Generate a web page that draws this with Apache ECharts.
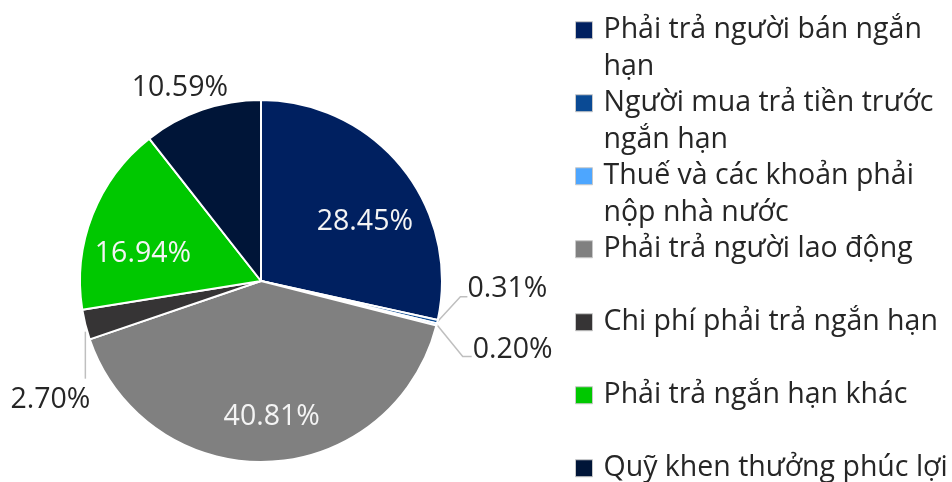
<!DOCTYPE html>
<html>
<head>
<meta charset="utf-8">
<script src="https://cdn.jsdelivr.net/npm/echarts@6/dist/echarts.min.js"></script>
<style>
html,body{margin:0;padding:0;background:#fff;}
#chart{width:952px;height:482px;}
</style>
</head>
<body>
<div id="chart"></div>
<script>
// ---- data ----
const categories = [
  'Phải trả người bán ngắn hạn',
  'Người mua trả tiền trước ngắn hạn',
  'Thuế và các khoản phải nộp nhà nước',
  'Phải trả người lao động',
  'Chi phí phải trả ngắn hạn',
  'Phải trả ngắn hạn khác',
  'Quỹ khen thưởng phúc lợi'
];
const values = [28.45, 0.31, 0.20, 40.81, 2.70, 16.94, 10.59];
const legendLine1 = [
  'Phải trả người bán ngắn',
  'Người mua trả tiền trước',
  'Thuế và các khoản phải',
  'Phải trả người lao động',
  'Chi phí phải trả ngắn hạn',
  'Phải trả ngắn hạn khác',
  'Quỹ khen thưởng phúc lợi'
];
const legendLine2 = ['hạn', 'ngắn hạn', 'nộp nhà nước', ' ', ' ', ' ', ' '];

// ---- styles ----
const colors = ['#002060', '#0a4a94', '#4da6ff', '#808080', '#363435', '#00c800', '#001538'];
const FONT = 'Open Sans';
const labelSpec = [
  { type: 'inside', dx: 31, dy: -1 },
  { type: 'outside', lx: 30, ly: -33, align: 'left', line: [[0, 0], [23, -25], [30, -25]] },
  { type: 'outside', lx: 36, ly: 25, align: 'left', line: [[0, 0], [26, 32], [35, 32]] },
  { type: 'inside', dx: 7, dy: 42 },
  { type: 'outside', lx: -35, ly: 75, align: 'center', line: [[0, 7], [0, 30], [0, 54]] },
  { type: 'inside', dx: -31, dy: 7 },
  { type: 'outside', lx: -22, ly: -22, align: 'center', line: [[0, 0], [0, 0]] }
];

const seriesData = categories.map((name, i) => {
  const inside = labelSpec[i].type === 'inside';
  return {
    name: name,
    value: values[i],
    itemStyle: { color: colors[i] },
    label: {
      position: inside ? 'inside' : 'outside',
      color: inside ? '#f4f4f4' : '#262626'
    },
    labelLine: { show: !inside }
  };
});

const legendMap = {};
categories.forEach((c, i) => { legendMap[c] = ' \n' + legendLine1[i] + '\n' + legendLine2[i]; });

const chart = echarts.init(document.getElementById('chart'), null, { renderer: 'canvas' });
chart.setOption({
  animation: false,
  backgroundColor: '#ffffff',
  legend: {
    orient: 'vertical',
    left: 575,
    top: -24.5,
    height: 700,
    padding: 0,
    itemWidth: 17,
    itemHeight: 17,
    itemGap: -36.5,
    icon: 'rect',
    selectedMode: false,
    itemStyle: { borderColor: '#c8c8c8', borderWidth: 1 },
    textStyle: {
      fontFamily: FONT,
      fontSize: 28.5,
      color: '#262626',
      lineHeight: 36.5,
      padding: [0, 0, 0, 6]
    },
    formatter: name => legendMap[name],
    data: categories
  },
  series: [{
    type: 'pie',
    center: [261, 281],
    radius: 181,
    startAngle: 90,
    clockwise: true,
    avoidLabelOverlap: false,
    itemStyle: { borderColor: '#ffffff', borderWidth: 2 },
    label: {
      show: true,
      fontFamily: FONT,
      fontSize: 28.5,
      formatter: p => p.value.toFixed(2) + '%'
    },
    labelLine: {
      length: 20,
      length2: 8,
      lineStyle: { color: '#bfbfbf', width: 1.5 }
    },
    emphasis: { disabled: true },
    labelLayout: function (p) {
      const s = labelSpec[p.dataIndex];
      if (!s) return {};
      if (s.type === 'inside') return { dx: s.dx, dy: s.dy };
      const a = p.labelLinePoints && p.labelLinePoints[0];
      if (!a) return {};
      return {
        x: a[0] + s.lx,
        y: a[1] + s.ly,
        align: s.align,
        verticalAlign: 'middle',
        labelLinePoints: s.line.map(o => [a[0] + o[0], a[1] + o[1]])
      };
    },
    data: seriesData
  }]
});
</script>
</body>
</html>
